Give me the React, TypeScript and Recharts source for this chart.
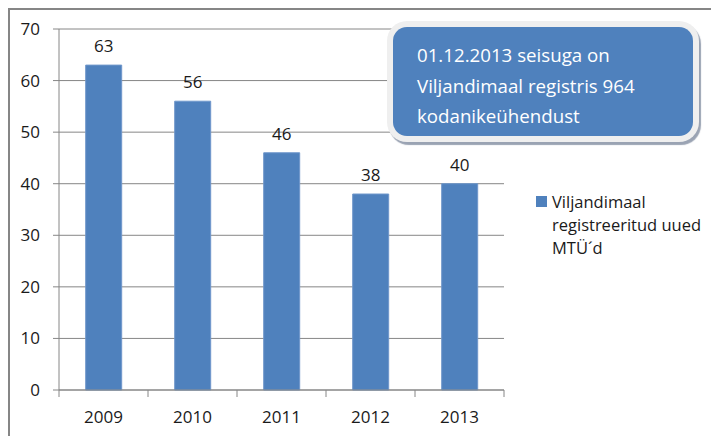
import React from 'react';
import { BarChart, Bar, XAxis, YAxis, CartesianGrid, LabelList, Legend } from 'recharts';

const years = ['2009', '2010', '2011', '2012', '2013'];
const counts = [63, 56, 46, 38, 40];
const yTicks = [0, 10, 20, 30, 40, 50, 60, 70];
const seriesName = 'Viljandimaal registreeritud uued MTÜ´d';
const legendLines = ['Viljandimaal', 'registreeritud uued', 'MTÜ´d'];
const calloutLines = ['01.12.2013 seisuga on', 'Viljandimaal registris 964', 'kodanikeühendust'];

const data = years.map((y, i) => ({ year: y, value: counts[i] }));

const FONT = "'Open Sans', sans-serif";
const BLUE = '#4F81BD';
const GRAY = '#868686';
const TEXT = '#1a1a1a';

const LegendContent = () => (
  <div style={{ fontFamily: FONT, fontSize: 16.5, lineHeight: '23px', color: TEXT }}>
    <div style={{ position: 'relative', paddingLeft: 16 }}>
      <div style={{ position: 'absolute', left: 0, top: 6, width: 11, height: 11, background: BLUE }} />
      {legendLines.map((l, i) => (
        <div key={i} style={{ whiteSpace: 'nowrap' }}>{l}</div>
      ))}
    </div>
  </div>
);

const XTick = (props: any) => {
  const { x, y, payload, index, visibleTicksCount } = props;
  const half = payload.offset || 0;
  const last = index === (visibleTicksCount ?? years.length) - 1;
  return (
    <g>
      <line x1={x - half} x2={x - half} y1={y} y2={y + 7} stroke={GRAY} />
      {last && <line x1={x + half} x2={x + half} y1={y} y2={y + 7} stroke={GRAY} />}
      <text x={x} y={y + 27} textAnchor="middle" dy="0.355em" fill={TEXT} fontSize={17} fontFamily={FONT}>{payload.value}</text>
    </g>
  );
};

export default function App() {
  return (
    <div style={{ position: 'relative', left: -8, top: -8, width: 719, height: 436, background: '#fff', fontFamily: FONT }}>
      <div style={{ position: 'absolute', left: 0, top: 0 }}>
        <BarChart width={719} height={436} data={data} margin={{ top: 29, right: 215, bottom: 0, left: 0 }} barCategoryGap="30%">
          <CartesianGrid vertical={false} stroke={GRAY} strokeWidth={1} />
          <XAxis dataKey="year" tickLine={false} axisLine={{ stroke: GRAY }} tickSize={0} tickMargin={0} height={46} tick={<XTick />} interval={0} />
          <YAxis domain={[0, 70]} ticks={yTicks} width={59} tickSize={6} tickMargin={13} axisLine={{ stroke: GRAY }} tickLine={{ stroke: GRAY }} tick={{ fill: TEXT, fontSize: 17, fontFamily: FONT }} interval={0} />
          <Bar dataKey="value" name={seriesName} fill={BLUE} stroke="#6F97CB" strokeWidth={1} isAnimationActive={false}>
            <LabelList dataKey="value" position="top" offset={13} fill={TEXT} fontSize={17} fontFamily={FONT} />
          </Bar>
          <Legend layout="vertical" align="center" verticalAlign="middle" content={LegendContent} wrapperStyle={{ left: 536, top: 190, width: 180 }} />
        </BarChart>
      </div>
      <div style={{ position: 'absolute', left: 8, top: 8, width: 720, height: 440, borderTop: `2px solid ${GRAY}`, borderLeft: `2px solid ${GRAY}`, zIndex: 5, pointerEvents: 'none' }} />
      <div style={{
        position: 'absolute', left: 393, top: 27, width: 300, height: 109, boxSizing: 'border-box',
        background: BLUE, borderRadius: 14, zIndex: 6,
        boxShadow: '0 0 0 6px #efefef, 2px 3px 1px 6px #9aa3b3',
        color: '#fff', fontFamily: FONT, fontSize: 18.7, lineHeight: '30.5px', padding: '13px 0 0 24px',
      }}>
        {calloutLines.map((l, i) => (
          <div key={i} style={{ whiteSpace: 'nowrap' }}>{l}</div>
        ))}
      </div>
    </div>
  );
}
